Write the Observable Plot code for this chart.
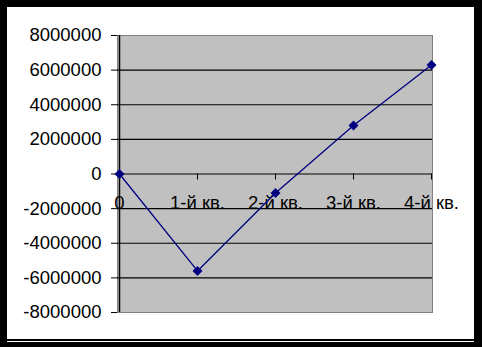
<!DOCTYPE html>
<html>
<head>
<meta charset="utf-8">
<script src="https://cdn.jsdelivr.net/npm/d3@7"></script>
<script src="https://cdn.jsdelivr.net/npm/@observablehq/plot@0.6"></script>
<style>
  html, body { margin: 0; padding: 0; background: #000; width: 482px; height: 347px; overflow: hidden; }
  #frame { position: absolute; left: 7px; top: 7px; width: 467px; height: 332px; background: #fff; }
  #line2 { position: absolute; left: 7px; top: 341px; width: 467px; height: 1px; background: #fff; }
  #chart { position: absolute; left: 0; top: 0; }
  #chart svg { background: transparent !important; }
</style>
</head>
<body>
<div id="frame"></div>
<div id="line2"></div>
<div id="chart"></div>
<script>
const categories = ["0", "1-й кв.", "2-й кв.", "3-й кв.", "4-й кв."];
const values = [0, -5600000, -1100000, 2800000, 6300000];
const yTicks = [-8000000, -6000000, -4000000, -2000000, 0, 2000000, 4000000, 6000000, 8000000];

const data = categories.map((c, i) => ({cat: c, value: values[i]}));
const font = "Arial, 'Liberation Sans', sans-serif";

const chart = Plot.plot({
  width: 482,
  height: 347,
  marginLeft: 117,
  marginRight: 50,
  marginTop: 35,
  marginBottom: 35,
  style: {background: "transparent", fontFamily: font, fontSize: "18.5px", color: "#000"},
  x: {type: "point", domain: categories, padding: 0, axis: null},
  y: {domain: [yTicks[0], yTicks[yTicks.length - 1]], axis: null},
  marks: [
    Plot.frame({fill: "#c0c0c0", stroke: "#808080"}),
    Plot.ruleY(yTicks.slice(1, -1), {stroke: "#000", strokeWidth: 1.2}),
    Plot.ruleX([categories[0]], {stroke: "#000", strokeWidth: 1.5}),
    Plot.axisY({ticks: yTicks, tickSize: 6, tickPadding: 10, tickFormat: d => String(d), fontSize: 18.5, fill: "#000", label: null}),
    Plot.ruleX(categories, {x: d => d, y1: 0, y2: 0, insetBottom: -6, stroke: "#000"}),
    Plot.text(categories, {x: d => d, y: 0, text: d => d, dy: 29, fontSize: 18.5, fill: "#000"}),
    Plot.line(data, {x: "cat", y: "value", stroke: "#000080", strokeWidth: 1.3}),
    Plot.dot(data, {x: "cat", y: "value", symbol: "diamond2", r: 4.5, fill: "#000080", stroke: "none"})
  ]
});
document.getElementById("chart").appendChild(chart);
</script>
</body>
</html>
